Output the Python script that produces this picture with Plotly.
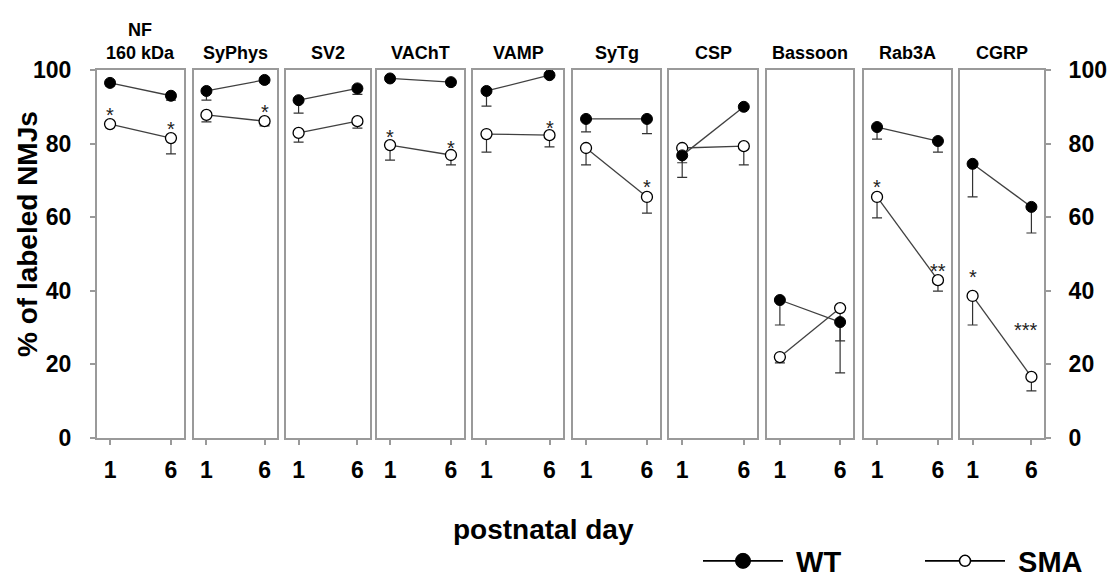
import plotly.graph_objects as go

W, H = 1109, 577

proteins = ["NF<br>160 kDa", "SyPhys", "SV2", "VAChT", "VAMP", "SyTg", "CSP", "Bassoon", "Rab3A", "CGRP"]
days = [1, 6]
day_labels = ["1", "6"]
y_ticks = [0, 20, 40, 60, 80, 100]

wt_d1 = [96.5, 94.3, 91.8, 97.7, 94.3, 86.7, 76.8, 37.5, 84.5, 74.5]
wt_d6 = [93.0, 97.3, 95.0, 96.7, 98.6, 86.7, 90.0, 31.5, 80.7, 62.8]
wt_err_d1 = [0.8, 2.5, 3.5, 0.8, 4.1, 3.5, 6.0, 6.8, 3.3, 9.0]
wt_err_d6 = [1.2, 0.8, 1.6, 0.8, 0.5, 4.0, 0.5, 13.8, 3.0, 7.1]

sma_d1 = [85.3, 87.8, 82.9, 79.6, 82.6, 78.8, 78.8, 22.0, 65.5, 38.6]
sma_d6 = [81.5, 86.1, 86.1, 76.9, 82.3, 65.5, 79.3, 35.3, 42.9, 16.6]
sma_err_d1 = [0.8, 1.9, 2.5, 4.1, 4.9, 4.6, 4.0, 1.6, 5.7, 7.9]
sma_err_d6 = [4.3, 1.3, 1.9, 2.7, 3.2, 4.4, 5.1, 8.9, 3.0, 3.8]

# significance marks: (panel index, day, y value, label)
sig_panel = [0, 0, 1, 3, 3, 4, 5, 8, 8, 9, 9]
sig_day = [1, 6, 6, 1, 6, 6, 6, 1, 6, 1, 5.55]
sig_y = [89.1, 85.3, 89.9, 83.2, 80.2, 85.6, 69.6, 69.6, 46.7, 45.1, 30.7]
sig_text = ["*", "*", "*", "*", "*", "*", "*", "*", "**", "*", "***"]

panel_px = [(97, 184), (194, 277), (286, 370), (377, 464), (473, 563),
            (573, 660), (669, 757), (767, 853), (864, 951), (960, 1044)]
y_dom = [1 - 438 / H, 1 - 70 / H]

FONT = "Liberation Sans, Arial, Helvetica, sans-serif"
BOX = "#9a9a9a"
TICKFONT = dict(size=23, family=FONT, weight="bold", color="black")

fig = go.Figure()
layout = dict(
    width=W, height=H,
    margin=dict(l=0, r=0, t=0, b=0, autoexpand=False),
    paper_bgcolor="white", plot_bgcolor="white",
    font=dict(family=FONT, color="black"),
    showlegend=True,
    legend=dict(orientation="h", x=698 / W, y=1 - 561 / H, xanchor="left", yanchor="middle",
                font=dict(size=29, family=FONT, weight="bold", color="black"),
                itemwidth=80, entrywidth=127, entrywidthmode="pixels",
                bgcolor="rgba(0,0,0,0)", traceorder="normal", itemclick=False),
)
annotations = []

for i, name in enumerate(proteins):
    n = "" if i == 0 else str(i + 1)
    xa, ya = "x" + n, "y" + n
    x0, x1 = panel_px[i]
    layout["xaxis" + n] = dict(
        domain=[x0 / W, x1 / W], anchor=ya, range=[-0.07, 7.07], automargin=False,
        tickvals=days, ticktext=day_labels, ticks="outside", ticklen=5, tickwidth=1.5,
        tickcolor=BOX, showline=True, linecolor=BOX, linewidth=2, mirror=True,
        showgrid=False, zeroline=False, fixedrange=True,
        tickfont=TICKFONT, ticklabelstandoff=5,
    )
    yax = dict(
        domain=y_dom, anchor=xa, range=[0, 100], automargin=False,
        showline=True, linecolor=BOX, linewidth=2, mirror=True,
        showgrid=False, zeroline=False, fixedrange=True,
        tickvals=y_ticks, showticklabels=False, ticks="",
    )
    if i == 0:
        yax.update(ticks="outside", ticklen=5, tickwidth=1.5, tickcolor=BOX,
                   showticklabels=True, tickfont=TICKFONT, ticklabelstandoff=14)
    if i == len(proteins) - 1:
        yax.update(side="right", ticks="outside", ticklen=5, tickwidth=1.5, tickcolor=BOX,
                   showticklabels=True, tickfont=TICKFONT, ticklabelstandoff=13)
    layout["yaxis" + n] = yax

    # SMA first so WT sits on top
    fig.add_trace(go.Scatter(
        x=days, y=[sma_d1[i], sma_d6[i]], xaxis=xa, yaxis=ya,
        mode="lines+markers", name="SMA", showlegend=False,
        line=dict(color="#404040", width=1.3),
        marker=dict(symbol="circle", size=11, color="white", line=dict(color="black", width=1.3)),
        error_y=dict(type="data", symmetric=False, array=[0, 0],
                     arrayminus=[sma_err_d1[i], sma_err_d6[i]],
                     color="#333333", thickness=1.2, width=5),
        cliponaxis=False,
    ))
    fig.add_trace(go.Scatter(
        x=days, y=[wt_d1[i], wt_d6[i]], xaxis=xa, yaxis=ya,
        mode="lines+markers", name="WT", showlegend=False,
        line=dict(color="#404040", width=1.3),
        marker=dict(symbol="circle", size=11, color="black", line=dict(color="black", width=1)),
        error_y=dict(type="data", symmetric=False, array=[0, 0],
                     arrayminus=[wt_err_d1[i], wt_err_d6[i]],
                     color="#333333", thickness=1.2, width=5),
        cliponaxis=False,
    ))

    annotations.append(dict(
        text="<b>" + name + "</b>", xref="paper", yref="paper",
        x=(x0 + x1) / 2 / W, y=1 - 65 / H, xanchor="center", yanchor="bottom",
        showarrow=False, font=dict(size=18, family=FONT), align="center",
    ))

# legend-only entries
fig.add_trace(go.Scatter(
    x=[None], y=[None], mode="lines+markers", name="\u00a0WT", legendrank=1,
    line=dict(color="black", width=1.8),
    marker=dict(symbol="circle", size=15, color="black", line=dict(color="black", width=1)),
))
fig.add_trace(go.Scatter(
    x=[None], y=[None], mode="lines+markers", name="\u00a0SMA", legendrank=2,
    line=dict(color="black", width=1.8),
    marker=dict(symbol="circle", size=11, color="white", line=dict(color="black", width=1.5)),
))

for p, d, yv, t in zip(sig_panel, sig_day, sig_y, sig_text):
    n = "" if p == 0 else str(p + 1)
    annotations.append(dict(
        text=t, xref="x" + n, yref="y" + n, x=d, y=yv, showarrow=False,
        xanchor="center", yanchor="middle", yshift=-5,
        font=dict(size=20, family=FONT, color="#222222"),
    ))

annotations.append(dict(
    text="<b>% of labeled NMJs</b>", xref="paper", yref="paper",
    x=27 / W, y=1 - 234 / H, xanchor="center", yanchor="middle", textangle=-90,
    showarrow=False, font=dict(size=28, family=FONT),
))
annotations.append(dict(
    text="<b>postnatal day</b>", xref="paper", yref="paper",
    x=543 / W, y=1 - 529 / H, xanchor="center", yanchor="middle",
    showarrow=False, font=dict(size=28, family=FONT),
))

layout["annotations"] = annotations
fig.update_layout(**layout)
fig.write_html("out.html")
